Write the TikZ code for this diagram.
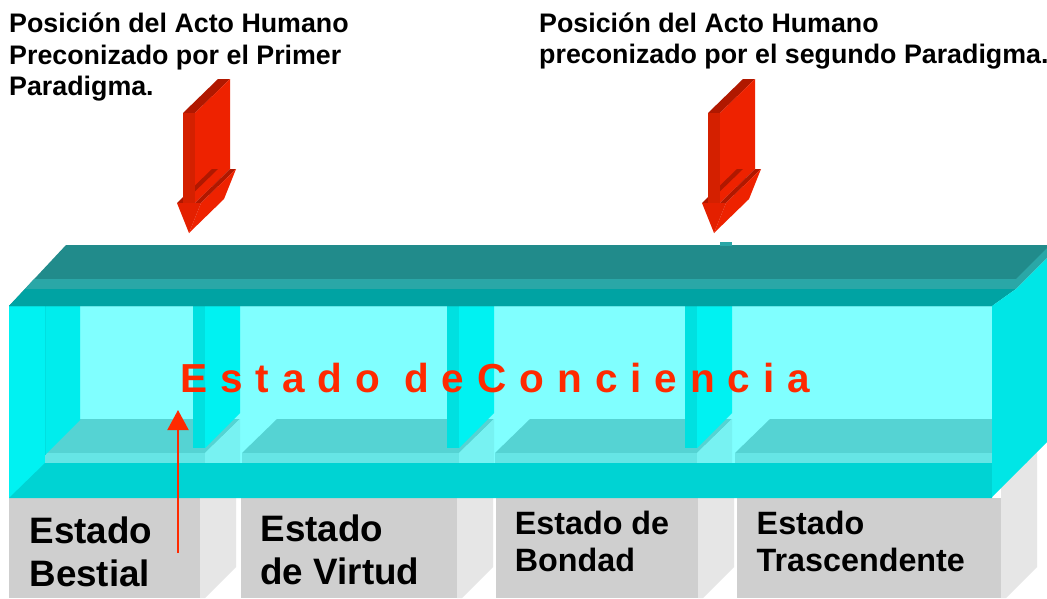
\documentclass[tikz,border=0pt]{standalone}
\usepackage{fontspec}
\setmainfont{Liberation Sans}
\usetikzlibrary{arrows.meta}
\definecolor{topdark}{HTML}{218B8B}
\definecolor{topstrip}{HTML}{2AA7A7}
\definecolor{topfront}{HTML}{00A3A3}
\definecolor{backwall}{HTML}{80FFFF}
\definecolor{pilfront}{HTML}{00E0E0}
\definecolor{pilside}{HTML}{00F2F2}
\definecolor{framefront}{HTML}{00F2F2}
\definecolor{wallin}{HTML}{00EDED}
\definecolor{floortop}{HTML}{55D3D3}
\definecolor{floorfront}{HTML}{66E5E5}
\definecolor{floorside}{HTML}{77F2F2}
\definecolor{bandcol}{HTML}{00D3D3}
\definecolor{rightface}{HTML}{00E6E6}
\definecolor{grayfront}{HTML}{CFCFCF}
\definecolor{grayside}{HTML}{E6E6E6}
\definecolor{redmain}{HTML}{EE2200}
\definecolor{redfront}{HTML}{D42000}
\definecolor{redtop}{HTML}{B01800}
\definecolor{redhead}{HTML}{E42000}
\definecolor{redtext}{HTML}{FF2A00}
\begin{document}
\begin{tikzpicture}[x=1pt,y=-1pt,
  hdr/.style={anchor=base west, inner sep=0pt, font=\fontsize{26.8}{31.5}\selectfont\bfseries},
  lblbig/.style={anchor=base west, inner sep=0pt, font=\fontsize{36.8}{44}\selectfont\bfseries},
  lblsmall/.style={anchor=base west, inner sep=0pt, font=\fontsize{32.3}{38}\selectfont\bfseries}]
\useasboundingbox (0,0) rectangle (1047,598);
\fill[white] (0,0) rectangle (1047,598);

% gray boxes
\foreach \a/\b in {9/200, 241/457, 496/698, 737/1001}{
  \fill[grayfront] (\a,498) rectangle (\b,598);
  \fill[grayside] (\b,450) -- (\b+36,450) -- (\b+36,567) -- (\b+5,598) -- (\b,598) -- cycle;
}

% interior back wall
\fill[backwall] (45,306) rectangle (992,463);

% floor slabs
\foreach \l/\r in {45/205, 242/459, 495/697, 735/992}{
  \fill[floortop] (\l,453) -- (\l+35,419) -- (\r+35,419) -- (\r,453) -- cycle;
  \fill[floorfront] (\l,453) rectangle (\r,463);
  \fill[floorside] (\r,453) -- (\r+35,419) -- (\r+35,463) -- (\r,463) -- cycle;
}

% pillars
\foreach \a/\b/\c in {193/205/240, 447/459/494, 685/697/732}{
  \fill[pilfront] (\a,306) rectangle (\b,448);
  \fill[pilside] (\b,306) -- (\c,306) -- (\c,413) -- (\b,448) -- cycle;
}

% left wall
\fill[wallin] (45,306) -- (80,306) -- (80,420) -- (45,455) -- cycle;
\fill[framefront] (9,306) rectangle (45,498);
\draw[pilfront, line width=0.8pt] (45,306) -- (45,455);

% bottom band
\fill[bandcol] (9,498) -- (45,463) -- (992,463) -- (992,498) -- cycle;

% top
\fill[topdark] (9,306) -- (66,245) -- (1047,245) -- (1047,250) -- (992,306) -- cycle;
\fill[topstrip] (34,279) -- (1016,279) -- (1047,248) -- (1047,258) -- (1016,289) -- (25,289) -- cycle;
\fill[topfront] (25,289) -- (1016,289) -- (992,306) -- (9,306) -- cycle;
\fill[topstrip] (720,242) rectangle (732,246);

% right face
\fill[rightface] (992,306) -- (1016,289) -- (1047,258) -- (1047,442) -- (992,497) -- cycle;

% 3D arrows
\foreach \dx in {0,525}{
  \begin{scope}[xshift=\dx]
    \fill[redtop] (183,113) -- (195,113) -- (230,79) -- (218,79) -- cycle;
    \fill[redmain] (195,113) -- (230,79) -- (230,169) -- (195,203) -- cycle;
    \fill[redtop] (177,203) -- (183,203) -- (218,169) -- (212,169) -- cycle;
    \fill[redtop] (195,203) -- (201,203) -- (236,169) -- (230,169) -- cycle;
    \fill[redmain] (201,203) -- (236,169) -- (224,199) -- (189,233) -- cycle;
    \fill[redfront] (183,113) rectangle (195,203.5);
    \fill[redhead] (177,203) -- (201,203) -- (189,233) -- cycle;
  \end{scope}
}

% thin red arrow
\coordinate (ta) at (178,553);
\coordinate (tb) at (178,410);
\draw[redtext, line width=2pt, -{Triangle[width=21pt,length=20pt]}] (ta) -- (tb);

% texts
\node[hdr] (h1a) at (9,32) {Posición del Acto Humano};
\node[hdr] (h1b) at (9,64) {Preconizado por el Primer};
\node[hdr] (h1c) at (9,95) {Paradigma.};
\node[hdr] (h2a) at (539,32) {Posición del Acto Humano};
\node[hdr] (h2b) at (539,63) {preconizado por el segundo Paradigma.};

\node[anchor=base west, inner sep=0pt, text=redtext, font=\fontsize{40.5}{48}\selectfont\bfseries] (conc) at (180,392) {\addfontfeature{LetterSpace=32}Estado deConciencia};

\node[lblbig] (b1a) at (29.3,543) {Estado};
\node[lblbig] (b1b) at (29.3,586) {Bestial};
\node[lblbig] (b2a) at (260.3,541) {Estado};
\node[lblbig] (b2b) at (260.3,584) {de Virtud};
\node[lblsmall] (b3a) at (514.6,534) {Estado de};
\node[lblsmall] (b3b) at (514.6,571) {Bondad};
\node[lblsmall] (b4a) at (756.5,534) {Estado};
\node[lblsmall] (b4b) at (756.5,571) {Trascendente};
\end{tikzpicture}
\end{document}
